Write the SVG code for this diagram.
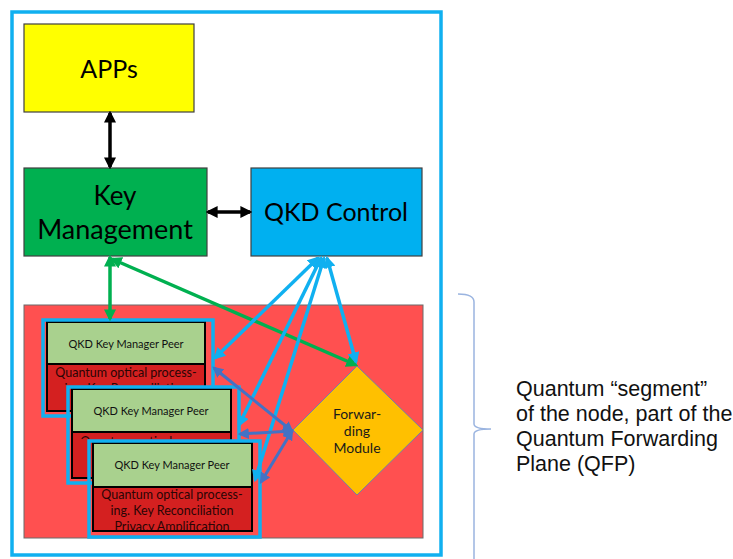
<svg xmlns="http://www.w3.org/2000/svg" width="733" height="559" viewBox="0 0 733 559">
  <style>
    .box { stroke: #404040; stroke-width: 1.2; }
    .big { font-family: Lato, "Liberation Sans", sans-serif; font-size: 25px; fill: #000; text-anchor: middle; }
    .peer-frame { fill: none; stroke: #10b0f0; stroke-width: 3.5; }
    .peer-box { stroke: #000; stroke-width: 2; }
    .peer-top { font-family: Lato, "Liberation Sans", sans-serif; font-size: 11px; fill: #111; text-anchor: middle; }
    .peer-low { font-family: Lato, "Liberation Sans", sans-serif; font-size: 12.5px; fill: #2a0505; text-anchor: middle; }
    .fwd { font-family: Lato, "Liberation Sans", sans-serif; font-size: 14px; fill: #1a1a1a; text-anchor: middle; }
    .note { font-family: "Liberation Sans", Arial, sans-serif; font-size: 21.5px; fill: #111; }
    .c-black { stroke: #000; stroke-width: 3.5; fill: none; }
    .c-green { stroke: #00b050; stroke-width: 3.5; fill: none; }
    .c-cyan { stroke: #10b0f0; stroke-width: 3.5; fill: none; }
    .c-blue { stroke: #4472c4; stroke-width: 3; fill: none; }
  </style>
  <defs>
    <marker id="ah-black" viewBox="0 0 10 10" refX="8" refY="5" markerWidth="12" markerHeight="12" markerUnits="userSpaceOnUse" orient="auto-start-reverse">
      <path d="M0,0 L10,5 L0,10 z" fill="#000"/>
    </marker>
    <marker id="ah-green" viewBox="0 0 10 10" refX="8" refY="5" markerWidth="12" markerHeight="12" markerUnits="userSpaceOnUse" orient="auto-start-reverse">
      <path d="M0,0 L10,5 L0,10 z" fill="#00b050"/>
    </marker>
    <marker id="ah-cyan" viewBox="0 0 10 10" refX="8" refY="5" markerWidth="12" markerHeight="12" markerUnits="userSpaceOnUse" orient="auto-start-reverse">
      <path d="M0,0 L10,5 L0,10 z" fill="#10b0f0"/>
    </marker>
    <marker id="ah-blue" viewBox="0 0 10 10" refX="8" refY="5" markerWidth="11" markerHeight="11" markerUnits="userSpaceOnUse" orient="auto-start-reverse">
      <path d="M0,0 L10,5 L0,10 z" fill="#4472c4"/>
    </marker>
    <!-- visible parts of the stacked peers' lower sections -->
    <clipPath id="clip-peer1"><rect x="47" y="364" width="158" height="21"/></clipPath>
    <clipPath id="clip-peer2"><rect x="72" y="432" width="159" height="7"/></clipPath>
    <clipPath id="clip-peer3"><rect x="93" y="487" width="159" height="44"/></clipPath>
  </defs>

  <rect width="733" height="559" fill="#fff"/>

  <!-- node boundary -->
  <rect id="node-frame" x="12" y="12" width="429" height="543" fill="#fff" stroke="#10b0f0" stroke-width="3.5"/>

  <g id="apps">
    <rect class="box" x="24" y="24" width="170" height="88" fill="#ffff00"/>
    <text class="big" x="109" y="78">APPs</text>
  </g>

  <g id="key-management">
    <rect class="box" x="24" y="168" width="183" height="88" fill="#00b050"/>
    <text class="big" x="115" y="205" style="font-size:26px">Key</text>
    <text class="big" x="115" y="239" style="font-size:27px">Management</text>
  </g>

  <g id="qkd-control">
    <rect class="box" x="251" y="168" width="171" height="88" fill="#00b0f0"/>
    <text class="big" x="336" y="221">QKD Control</text>
  </g>

  <!-- quantum forwarding plane area -->
  <g id="qfp">
    <rect x="24" y="305" width="399" height="233" fill="#ff5050" stroke="#6a6a6a" stroke-width="1"/>
  </g>

  <g id="peer-1">
    <rect class="peer-box" x="47" y="322" width="158" height="89" fill="#d42020"/>
    <rect class="peer-box" x="47" y="322" width="158" height="42" fill="#a9d18e"/>
    <text class="peer-top" x="126" y="348">QKD Key Manager Peer</text>
    <g clip-path="url(#clip-peer1)">
      <text class="peer-low" x="126" y="377">Quantum optical process-</text>
      <text class="peer-low" x="126" y="393">ing. Key Reconciliation</text>
    </g>
    <rect class="peer-frame" x="43" y="320" width="170" height="96"/>
  </g>

  <g id="peer-2">
    <rect class="peer-box" x="72" y="389" width="159" height="89" fill="#d42020"/>
    <rect class="peer-box" x="72" y="389" width="159" height="43" fill="#a9d18e"/>
    <text class="peer-top" x="151" y="415">QKD Key Manager Peer</text>
    <g clip-path="url(#clip-peer2)">
      <text class="peer-low" x="151" y="446">Quantum optical process-</text>
    </g>
    <rect class="peer-frame" x="68" y="387" width="171" height="96"/>
  </g>

  <g id="peer-3">
    <rect class="peer-box" x="93" y="443" width="159" height="88" fill="#d42020"/>
    <rect class="peer-box" x="93" y="443" width="159" height="44" fill="#a9d18e"/>
    <text class="peer-top" x="172" y="469">QKD Key Manager Peer</text>
    <g clip-path="url(#clip-peer3)">
      <text class="peer-low" x="172" y="499">Quantum optical process-</text>
      <text class="peer-low" x="172" y="515">ing. Key Reconciliation</text>
      <text class="peer-low" x="172" y="531">Privacy Amplification</text>
    </g>
    <rect class="peer-box" x="93" y="443" width="159" height="88" fill="none"/>
    <rect class="peer-frame" x="89" y="441" width="171" height="96"/>
  </g>

  <g id="forwarding-module">
    <polygon points="357,366 423,430 357,495 293,430" fill="#ffc000" stroke="#7080a8" stroke-width="1"/>
    <text class="fwd" x="357" y="419">Forwar-</text>
    <text class="fwd" x="357" y="436">ding</text>
    <text class="fwd" x="357" y="453">Module</text>
  </g>

  <g id="connectors">
    <line class="c-black" x1="110" y1="113" x2="110" y2="167" marker-start="url(#ah-black)" marker-end="url(#ah-black)"/>
    <line class="c-black" x1="208" y1="212" x2="250" y2="212" marker-start="url(#ah-black)" marker-end="url(#ah-black)"/>

    <line class="c-green" x1="110" y1="257" x2="110" y2="319" marker-start="url(#ah-green)" marker-end="url(#ah-green)"/>
    <line class="c-green" x1="112" y1="259" x2="356" y2="365" marker-start="url(#ah-green)" marker-end="url(#ah-green)"/>

    <line class="c-cyan" x1="318" y1="258" x2="215" y2="358" marker-start="url(#ah-cyan)" marker-end="url(#ah-cyan)"/>
    <line class="c-cyan" x1="321" y1="258" x2="239" y2="425" marker-start="url(#ah-cyan)" marker-end="url(#ah-cyan)"/>
    <line class="c-cyan" x1="324" y1="258" x2="255" y2="480" marker-start="url(#ah-cyan)" marker-end="url(#ah-cyan)"/>
    <line class="c-cyan" x1="327" y1="258" x2="356" y2="362" marker-start="url(#ah-cyan)" marker-end="url(#ah-cyan)"/>

    <line class="c-blue" x1="292" y1="431" x2="214" y2="368" marker-start="url(#ah-blue)" marker-end="url(#ah-blue)"/>
    <line class="c-blue" x1="292" y1="431" x2="240" y2="434" marker-start="url(#ah-blue)" marker-end="url(#ah-blue)"/>
    <line class="c-blue" x1="292" y1="431" x2="261" y2="482" marker-start="url(#ah-blue)" marker-end="url(#ah-blue)"/>
  </g>

  <!-- brace and caption -->
  <path d="M458,294 Q474,294 474,302 L474,424 Q474,429 491,429 Q474,429 474,434 L474,559" fill="none" stroke="#9ab4e0" stroke-width="1.5"/>
  <text class="note" x="516" y="396">Quantum “segment”</text>
  <text class="note" x="516" y="421">of the node, part of the</text>
  <text class="note" x="516" y="446">Quantum Forwarding</text>
  <text class="note" x="516" y="471">Plane (QFP)</text>
</svg>
